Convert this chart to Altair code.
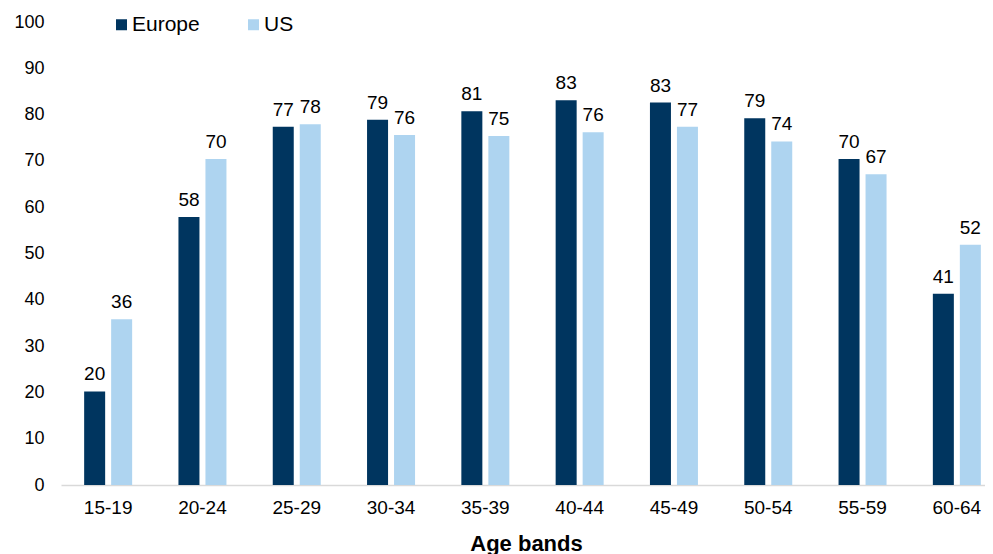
import altair as alt
import pandas as pd

bands = ["15-19", "20-24", "25-29", "30-34", "35-39", "40-44", "45-49", "50-54", "55-59", "60-64"]
europe = [20.2, 57.9, 77.4, 78.9, 80.7, 83.1, 82.6, 79.2, 70.4, 41.3]
us = [35.8, 70.4, 77.9, 75.6, 75.4, 76.2, 77.4, 74.2, 67.1, 51.9]
series = ["Europe", "US"]
colors = ["#00355F", "#AED4F0"]

rows = []
for i, b in enumerate(bands):
    rows.append({"band": b, "series": "Europe", "value": europe[i]})
    rows.append({"band": b, "series": "US", "value": us[i]})
df = pd.DataFrame(rows)

FONT = "Liberation Sans"

x = alt.X("band:N", sort=bands, title="Age bands",
          scale=alt.Scale(paddingInner=0.491, paddingOuter=0.2455, range=[0, 943]),
          axis=alt.Axis(labelAngle=0, ticks=False, domainColor="#D9D9D9", domainWidth=1.5,
                        labelFontSize=19, labelColor="#000000", labelFont=FONT, labelPadding=13,
                        titleFontSize=22, titleFont=FONT, titleFontWeight="bold", titleColor="#000000",
                        titlePadding=16, titleX=465))
xo = alt.XOffset("series:N", sort=series, scale=alt.Scale(paddingInner=0.222, paddingOuter=0))
y = alt.Y("value:Q", title=None,
          scale=alt.Scale(domain=[0, 100], nice=False),
          axis=alt.Axis(values=list(range(0, 101, 10)), grid=False, domain=False, ticks=False,
                        labelFontSize=18, labelColor="#000000", labelFont=FONT, labelPadding=17))
color = alt.Color("series:N", sort=series,
                  scale=alt.Scale(domain=series, range=colors),
                  legend=alt.Legend(title=None, orient="none", direction="horizontal",
                                    legendX=50, legendY=-8, padding=0,
                                    symbolType="square", symbolSize=121, symbolStrokeWidth=0,
                                    labelFontSize=21, labelFont=FONT, labelColor="#000000",
                                    labelOffset=0, columnPadding=43))

base = alt.Chart(df)
bars = base.mark_bar().encode(x=x, xOffset=xo, y=y, color=color)
labels = base.mark_text(dy=-11, baseline="alphabetic", align="center", fontSize=19,
                        font=FONT, color="#000000").encode(
    x=alt.X("band:N", sort=bands), xOffset=alt.XOffset("series:N", sort=series),
    y="value:Q", text=alt.Text("value:Q", format=".0f"))

chart = alt.layer(bars, labels).properties(
    width=924, height=463,
    background="white",
    autosize=alt.AutoSizeParams(type="none"),
    padding={"left": 53, "top": 14, "right": 0, "bottom": 80},
).configure_view(stroke="transparent", strokeWidth=0)

chart.save("out.html", embed_options={"renderer": "svg", "actions": False})
